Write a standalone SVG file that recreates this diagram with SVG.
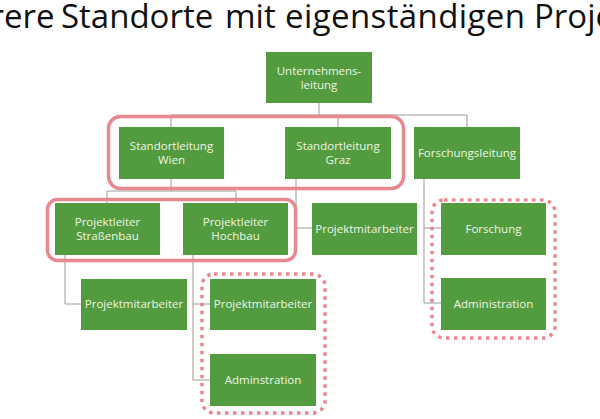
<svg xmlns="http://www.w3.org/2000/svg" width="600" height="419" viewBox="0 0 600 419">
<style>
.box{fill:#529b3e;}
.lbl{font-family:"Open Sans","Noto Sans",sans-serif;font-size:11.5px;fill:#eef6e6;text-anchor:middle;}
.title{font-family:"Open Sans","Noto Sans",sans-serif;font-size:33px;fill:#111;}
.con{fill:none;stroke:#9a9a9a;stroke-width:1;}
.hl{fill:none;stroke:#e8888f;stroke-width:3.5;}
.dot{fill:none;stroke:#e8888f;stroke-width:3.5;stroke-dasharray:3.5 4.5;}
</style>
<rect width="600" height="419" fill="#ffffff"/>
<g id="title">
<text class="title" y="28"><tspan x="-9.5">r</tspan><tspan x="4">ere</tspan> <tspan x="61">Standorte</tspan> <tspan x="225">mit</tspan> <tspan x="285" letter-spacing="0.4">eigenständigen</tspan> <tspan x="534">Proje</tspan></text>
</g>
<g id="connectors">
<path class="con" d="M319 103V115M171 115H467M171 115V127M338 115V127M467 115V127"/>
<path class="con" d="M171 179V191M107 191H236M107 191V203M236 191V203"/>
<path class="con" d="M296 179V228H312"/>
<path class="con" d="M424 179V303H441M424 228H441"/>
<path class="con" d="M65 255V304H81"/>
<path class="con" d="M193 255V380H210M193 304H210"/>
</g>
<g id="n1"><rect class="box" x="266" y="52" width="106" height="51"/><text class="lbl" x="319" y="75">Unternehmens-</text><text class="lbl" x="319" y="89">leitung</text></g>
<g id="n2"><rect class="box" x="119" y="127" width="105" height="52"/><text class="lbl" x="171.5" y="150">Standortleitung</text><text class="lbl" x="171.5" y="164">Wien</text></g>
<g id="n3"><rect class="box" x="285" y="127" width="106" height="52"/><text class="lbl" x="338" y="150">Standortleitung</text><text class="lbl" x="338" y="164">Graz</text></g>
<g id="n4"><rect class="box" x="414" y="127" width="106" height="52"/><text class="lbl" x="467" y="157">Forschungsleitung</text></g>
<g id="n5"><rect class="box" x="55" y="203" width="105" height="52"/><text class="lbl" x="107.5" y="226">Projektleiter</text><text class="lbl" x="107.5" y="240">Straßenbau</text></g>
<g id="n6"><rect class="box" x="183" y="203" width="105" height="52"/><text class="lbl" x="235.5" y="226">Projektleiter</text><text class="lbl" x="235.5" y="240">Hochbau</text></g>
<g id="n7"><rect class="box" x="312" y="203" width="105" height="52"/><text class="lbl" x="364.5" y="233">Projektmitarbeiter</text></g>
<g id="n8"><rect class="box" x="441" y="203" width="105" height="52"/><text class="lbl" x="493.5" y="233">Forschung</text></g>
<g id="n9"><rect class="box" x="81" y="279" width="106" height="51"/><text class="lbl" x="134" y="308">Projektmitarbeiter</text></g>
<g id="n10"><rect class="box" x="210" y="279" width="106" height="51"/><text class="lbl" x="263" y="308">Projektmitarbeiter</text></g>
<g id="n11"><rect class="box" x="441" y="278" width="105" height="52"/><text class="lbl" x="493.5" y="308">Administration</text></g>
<g id="n12"><rect class="box" x="210" y="354" width="106" height="52"/><text class="lbl" x="263" y="384">Adminstration</text></g>
<g id="highlights">
<rect class="hl" x="108.5" y="116.5" width="295" height="72" rx="12"/>
<rect class="hl" x="47.5" y="199.5" width="248" height="61" rx="10"/>
<rect class="dot" x="202" y="274" width="123" height="139" rx="12"/>
<rect class="dot" x="432" y="200" width="123" height="138" rx="12"/>
</g>
</svg>
